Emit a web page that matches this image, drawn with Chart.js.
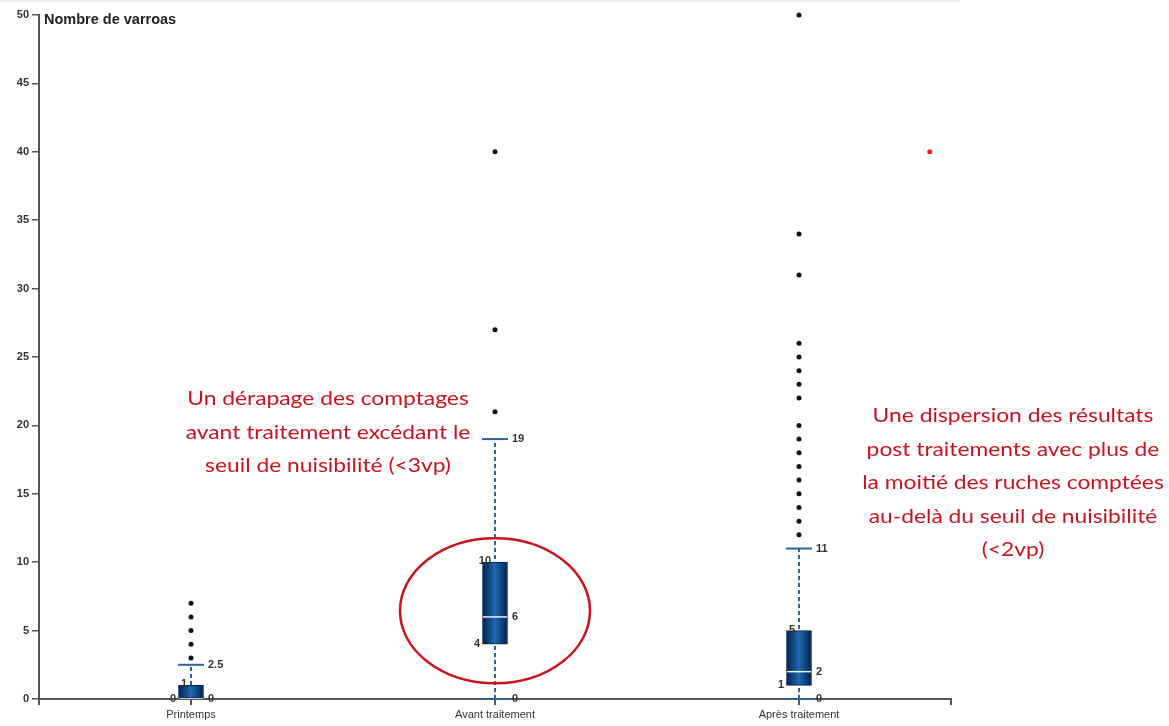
<!DOCTYPE html>
<html>
<head>
<meta charset="utf-8">
<script src="https://cdn.jsdelivr.net/npm/chart.js@4.4.1/dist/chart.umd.min.js"></script>
<style>
  html, body { margin: 0; padding: 0; background: #fff; }
  #wrap { position: relative; width: 1169px; height: 726px; }
  #topline { position: absolute; left: 0; top: 0; width: 960px; height: 2px; background: #ececec; }
</style>
</head>
<body>
<div id="wrap">
  <canvas id="chart" width="1169" height="726"></canvas>
  <div id="topline"></div>
</div>
<script>
// categories and box statistics
const categories = ['Printemps', 'Avant traitement', 'Après traitement'];
const mins = [0, 0, 0];
const q1s = [0, 4, 1];
const medians = [0, 6, 2];
const q3s = [1, 10, 5];
const maxs = [2.5, 19, 11];

// outliers per category
const outliersPrintemps = [3, 4, 5, 6, 7];
const outliersAvant = [21, 27, 40];
const outliersApres = [12, 13, 14, 15, 16, 17, 18, 19, 20, 22, 23, 24, 25, 26, 31, 34, 50];

// stray red point on the right
const strayX = [3.43];
const strayY = [40];

const yMin = 0, yMax = 50, yStep = 5;

const redNotes = [
  { x: 328, y: 405, lines: ['Un dérapage des comptages', 'avant traitement excédant le', 'seuil de nuisibilité (<3vp)'] },
  { x: 1013, y: 422, lines: ['Une dispersion des résultats', 'post traitements avec plus de', 'la moitié des ruches comptées', 'au-delà du seuil de nuisibilité', '(<2vp)'] }
];

const BOX_W = 25;
const whiskerColor = '#2d6496';

const pos = categories.map((c, i) => i + 1);

const whiskerSets = pos.map((p, i) => ({
  type: 'line',
  data: [{ x: p, y: mins[i] }, { x: p, y: maxs[i] }],
  borderColor: whiskerColor,
  borderWidth: 2,
  borderDash: [4, 3],
  pointRadius: 0,
  order: 6
}));

const capData = [];
pos.forEach((p, i) => {
  capData.push({ x: p, y: maxs[i] });
  if (mins[i] !== q1s[i]) capData.push({ x: p, y: mins[i] });
});

const outlierData = []
  .concat(outliersPrintemps.map(v => ({ x: 1, y: v })))
  .concat(outliersAvant.map(v => ({ x: 2, y: v })))
  .concat(outliersApres.map(v => ({ x: 3, y: v })));

function boxFill(ctx) {
  const chart = ctx.chart;
  if (!chart.chartArea || ctx.type !== 'data') return '#0d4a8a';
  const cx = chart.scales.x.getPixelForValue(ctx.raw.x);
  const g = chart.ctx.createLinearGradient(cx - BOX_W / 2, 0, cx + BOX_W / 2, 0);
  g.addColorStop(0, '#06214d');
  g.addColorStop(0.5, '#1c69b0');
  g.addColorStop(1, '#06214d');
  return g;
}

const labelPlugin = {
  id: 'boxLabels',
  afterDatasetsDraw(chart) {
    const { ctx, scales: { x, y } } = chart;
    ctx.save();
    ctx.font = 'bold 11px Arial';
    ctx.fillStyle = '#333';
    ctx.textBaseline = 'middle';
    pos.forEach((p, i) => {
      const cx = x.getPixelForValue(p);
      ctx.textAlign = 'left';
      ctx.fillText(String(maxs[i]), cx + 17, y.getPixelForValue(maxs[i]));
      ctx.fillText(String(medians[i]), cx + 17, y.getPixelForValue(medians[i]));
      if (mins[i] !== q1s[i]) ctx.fillText(String(mins[i]), cx + 17, y.getPixelForValue(mins[i]));
      ctx.textAlign = 'right';
      ctx.fillText(String(q1s[i]), cx - 15, y.getPixelForValue(q1s[i]));
      ctx.fillText(String(q3s[i]), cx - 4, y.getPixelForValue(q3s[i]) - 1);
    });

    // axis title
    ctx.font = 'bold 14.5px Arial';
    ctx.fillStyle = '#222';
    ctx.textAlign = 'left';
    ctx.fillText('Nombre de varroas', x.left + 5, y.getPixelForValue(yMax) + 5);

    // red ellipse round the "Avant traitement" box
    const ex = x.getPixelForValue(2);
    const eTop = y.getPixelForValue(11.75), eBot = y.getPixelForValue(1.15);
    ctx.strokeStyle = '#c8141e';
    ctx.lineWidth = 2.5;
    ctx.beginPath();
    ctx.ellipse(ex, (eTop + eBot) / 2, 95, (eBot - eTop) / 2, 0, 0, Math.PI * 2);
    ctx.stroke();

    // notes (text is a little stretched in the original)
    ctx.font = '20px Lato';
    ctx.fillStyle = '#c8141e';
    ctx.textAlign = 'center';
    ctx.textBaseline = 'alphabetic';
    const sx = 1.14;
    redNotes.forEach(n => {
      n.lines.forEach((l, k) => {
        ctx.save();
        ctx.translate(n.x, n.y + k * 33.5);
        ctx.scale(sx, 1);
        ctx.fillText(l, 0, 0);
        ctx.restore();
      });
    });
    ctx.restore();
  }
};

new Chart(document.getElementById('chart'), {
  data: {
    datasets: [
      ...whiskerSets,
      {
        type: 'scatter',
        data: capData,
        pointStyle: 'line',
        pointRadius: 13,
        borderColor: whiskerColor,
        borderWidth: 2,
        clip: false,
        order: 5
      },
      {
        type: 'bar',
        data: pos.map((p, i) => ({ x: p, y: [q1s[i], q3s[i]] })),
        backgroundColor: boxFill,
        borderColor: '#0a2452',
        borderWidth: 1,
        borderSkipped: false,
        barThickness: BOX_W,
        order: 4
      },
      {
        type: 'scatter',
        data: pos.map((p, i) => ({ x: p, y: medians[i] })),
        pointStyle: 'line',
        pointRadius: 12,
        borderColor: '#e8f2ff',
        borderWidth: 1.5,
        order: 3
      },
      {
        type: 'scatter',
        data: outlierData,
        pointRadius: 2.5,
        backgroundColor: '#111',
        borderWidth: 0,
        clip: false,
        order: 2
      },
      {
        type: 'scatter',
        data: strayX.map((v, i) => ({ x: v, y: strayY[i] })),
        pointRadius: 2.5,
        backgroundColor: '#e8202a',
        borderWidth: 0,
        order: 1
      }
    ]
  },
  options: {
    responsive: false,
    animation: false,
    layout: { padding: { top: 14, right: 218, left: 0, bottom: 0 } },
    plugins: { legend: { display: false }, tooltip: { enabled: false } },
    scales: {
      x: {
        type: 'linear',
        min: 0.5,
        max: 3.5,
        offset: false,
        afterBuildTicks: s => { s.ticks = [0.5, 1, 2, 3, 3.5].map(v => ({ value: v })); },
        afterFit: s => { s.height = 27; },
        ticks: {
          autoSkip: false,
          maxRotation: 0,
          padding: 3,
          color: '#333',
          font: { family: 'Arial', size: 11 },
          callback: v => categories[v - 1] || ''
        },
        grid: { offset: false, drawOnChartArea: false, drawTicks: true, tickLength: 6, color: '#555', lineWidth: 2 },
        border: { color: '#555', width: 2 }
      },
      y: {
        min: yMin,
        max: yMax,
        afterFit: s => { s.width = 39; },
        ticks: {
          stepSize: yStep,
          padding: 3,
          color: '#333',
          font: { family: 'Arial', size: 11, weight: 'bold' }
        },
        grid: { drawOnChartArea: false, drawTicks: true, tickLength: 7, color: '#555', lineWidth: 1.5 },
        border: { color: '#555', width: 2 }
      }
    }
  },
  plugins: [labelPlugin]
});
</script>
</body>
</html>
